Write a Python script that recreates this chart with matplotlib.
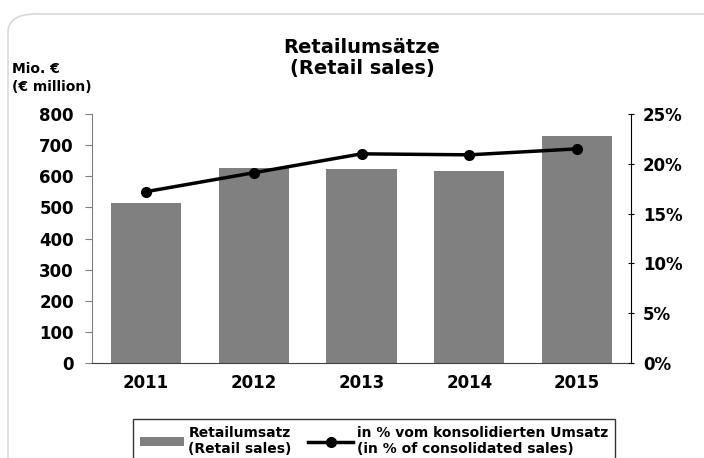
import matplotlib.pyplot as plt
from matplotlib.patches import FancyBboxPatch
import numpy as np

years = ['2011', '2012', '2013', '2014', '2015']
sales = [514, 627, 624, 617, 730]
share = [17.2, 19.1, 21.0, 20.9, 21.5]

plt.rcParams['font.family'] = 'DejaVu Sans'
plt.rcParams['font.weight'] = 'bold'

fig = plt.figure(figsize=(7.04, 4.58), dpi=100)
card = FancyBboxPatch((8 / 704, -0.2), 1.2, 1.2 - 14 / 458,
                      boxstyle='round,pad=0,rounding_size=0.04',
                      transform=fig.transFigure, facecolor='white',
                      edgecolor='#d9d9d9', linewidth=1.2, zorder=-10)
fig.add_artist(card)

ax = fig.add_axes([92 / 704, 1 - 363 / 458, (631 - 92) / 704, (363 - 114) / 458])
ax.set_facecolor('none')
x = np.arange(len(years))
bars = ax.bar(x, sales, width=0.65, color='#808080', label='Retailumsatz\n(Retail sales)')
ax.set_xlim(-0.5, 4.5)
ax.set_ylim(0, 800)
ax.set_yticks(range(0, 801, 100))
ax.set_xticks(x)
ax.set_xticklabels(years, fontsize=12, fontweight='bold')
ax.tick_params(axis='x', length=0, pad=8)
ax.tick_params(axis='y', labelsize=12, length=5, color='#808080', pad=8)
for s in ['top', 'right']:
    ax.spines[s].set_visible(False)
ax.spines['left'].set_color('#808080')
ax.spines['bottom'].set_color('#404040')

ax2 = ax.twinx()
line, = ax2.plot(x, share, color='black', linewidth=2.5, marker='o', markersize=7,
                 label='in % vom konsolidierten Umsatz\n(in % of consolidated sales)')
ax2.set_ylim(0, 25)
ax2.set_yticks(range(0, 26, 5))
ax2.set_yticklabels([f'{v}%' for v in range(0, 26, 5)])
ax2.tick_params(axis='y', labelsize=12, length=5, direction='inout', pad=6)
for s in ['top', 'left', 'bottom']:
    ax2.spines[s].set_visible(False)
ax2.spines['right'].set_color('black')

fig.text(362 / 704, 1 - 58 / 458, 'Retailumsätze\n(Retail sales)', ha='center', va='center',
         fontsize=14, fontweight='bold', linespacing=1.15)
fig.text(12 / 704, 1 - 78 / 458, 'Mio. €\n(€ million)', ha='left', va='center',
         fontsize=10, fontweight='bold', linespacing=1.3)

leg = fig.legend([bars, line], [bars.get_label(), line.get_label()], ncol=2,
                 loc='upper center', bbox_to_anchor=(374 / 704, 1 - 412 / 458),
                 fontsize=10, frameon=True, fancybox=False, edgecolor='black',
                 handlelength=3.2, columnspacing=1.2, handletextpad=0.3,
                 borderpad=0.5)
leg.get_frame().set_linewidth(1.0)

fig.savefig('out.png', dpi=100)
